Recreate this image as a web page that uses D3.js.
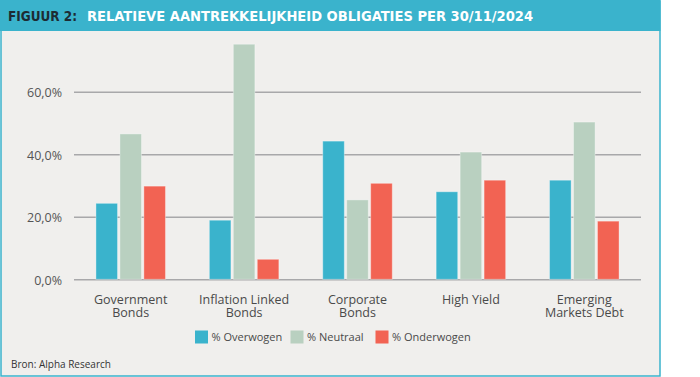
<!DOCTYPE html>
<html>
<head>
<meta charset="utf-8">
<script src="https://cdn.jsdelivr.net/npm/d3@7"></script>
<style>
  body { margin: 0; background: #fff; }
  svg { display: block; }
</style>
</head>
<body>
<script>
var categories = [['Government', 'Bonds'], ['Inflation Linked', 'Bonds'], ['Corporate', 'Bonds'], ['High Yield'], ['Emerging', 'Markets Debt']];
var seriesNames = ['% Overwogen', '% Neutraal', '% Onderwogen'];
var overwogen = [24.3, 18.9, 44.2, 28.0, 31.7];
var neutraal = [46.5, 75.2, 25.4, 40.7, 50.3];
var onderwogen = [29.8, 6.4, 30.7, 31.7, 18.6];
var tickValues = [0, 20, 40, 60];
var colors = ['#3ab3cc', '#b9d0c0', '#f26353'];

var chart = {
  'width': 700,
  'height': 377,
  'frameW': 660,
  'frameH': 376,
  'headerH': 31
};

var svg = d3.select('body').append('svg')
  .attr('width', chart.width)
  .attr('height', chart.height);

// frame
svg.append('rect')
  .attr('x', 1).attr('y', 1)
  .attr('width', chart.frameW - 1).attr('height', chart.frameH - 1)
  .attr('fill', '#f0efed')
  .attr('stroke', '#3ab3cc')
  .attr('stroke-width', 1.5);

svg.append('rect')
  .attr('x', 0).attr('y', 0)
  .attr('width', chart.frameW + 0.5).attr('height', chart.headerH)
  .attr('fill', '#3ab3cc');

var title = svg.append('text')
  .attr('y', 21)
  .style('font-family', '"DejaVu Sans Condensed", "Liberation Sans Narrow", sans-serif')
  .style('font-weight', 'bold')
  .style('font-size', '13.5px');
title.append('tspan').attr('x', 8).attr('fill', '#1d2b33')
  .attr('textLength', 69).attr('lengthAdjust', 'spacingAndGlyphs')
  .text('FIGUUR 2:');
title.append('tspan').attr('x', 87).attr('fill', '#ffffff')
  .attr('textLength', 446).attr('lengthAdjust', 'spacingAndGlyphs')
  .text('RELATIEVE AANTREKKELIJKHEID OBLIGATIES PER 30/11/2024');

var plot = { left: 74, right: 641, top: 29.2, bottom: 279.3 };

var y = d3.scaleLinear().domain([0, 80]).range([plot.bottom, plot.top]);
var x0 = d3.scaleBand()
  .domain(d3.range(categories.length))
  .range([plot.left, plot.right])
  .paddingInner(0.387)
  .paddingOuter(0.1935);
var x1 = d3.scaleBand()
  .domain(d3.range(seriesNames.length))
  .range([0, x0.bandwidth()])
  .paddingInner(0.1);

var font = '"Open Sans", "Noto Sans", sans-serif';

// grid + y labels
var yAxis = d3.axisLeft(y)
  .tickValues(tickValues)
  .tickSize(-(plot.right - plot.left))
  .tickPadding(12)
  .tickFormat(function(d) { return d3.format('.1f')(d).replace('.', ',') + '%'; });

var gy = svg.append('g')
  .attr('transform', 'translate(' + plot.left + ',0)')
  .call(yAxis);
gy.select('.domain').remove();
gy.selectAll('.tick line').attr('stroke', '#a8a8aa').attr('stroke-width', 1.5);
gy.selectAll('.tick text')
  .attr('fill', '#555')
  .attr('dy', '0.38em')
  .style('font-family', font)
  .style('font-size', '12.5px');

// bars
var table = categories.map(function(c, i) {
  return [overwogen[i], neutraal[i], onderwogen[i]];
});

var groups = svg.selectAll('.group')
  .data(table)
  .enter().append('g')
  .attr('class', 'group')
  .attr('transform', function(d, i) { return 'translate(' + x0(i) + ',0)'; });

groups.selectAll('rect')
  .data(function(d) { return d; })
  .enter().append('rect')
  .attr('x', function(d, j) { return x1(j); })
  .attr('y', function(d) { return y(d); })
  .attr('width', x1.bandwidth())
  .attr('height', function(d) { return y(0) - y(d); })
  .attr('fill', function(d, j) { return colors[j]; })
  .attr('stroke', 'rgba(255,255,255,0.35)')
  .attr('stroke-width', 1);

// x labels, one text per line
categories.forEach(function(lines, i) {
  svg.selectAll('.xlabel' + i)
    .data(lines)
    .enter().append('text')
    .attr('class', 'xlabel' + i)
    .attr('text-anchor', 'middle')
    .attr('x', x0(i) + x0.bandwidth() / 2)
    .attr('y', function(d, k) { return 303.5 + k * 13.5; })
    .attr('fill', '#4a4a4a')
    .style('font-family', font)
    .style('font-size', '12.5px')
    .text(function(d) { return d; });
});

// legend
var legendX = [195, 290.5, 375.5];
var lg = svg.selectAll('.legend')
  .data(seriesNames)
  .enter().append('g')
  .attr('class', 'legend')
  .attr('transform', function(d, i) { return 'translate(' + legendX[i] + ',330.5)'; });
lg.append('rect')
  .attr('width', 13).attr('height', 13)
  .attr('fill', function(d, i) { return colors[i]; });
lg.append('text')
  .attr('x', 16.5).attr('y', 10.5)
  .attr('fill', '#4a4a4a')
  .style('font-family', font)
  .style('font-size', '11px')
  .text(function(d) { return d; });

svg.append('text')
  .attr('x', 11).attr('y', 368)
  .attr('fill', '#333')
  .style('font-family', font)
  .style('font-size', '10px')
  .text('Bron: Alpha Research');
</script>
</body>
</html>
